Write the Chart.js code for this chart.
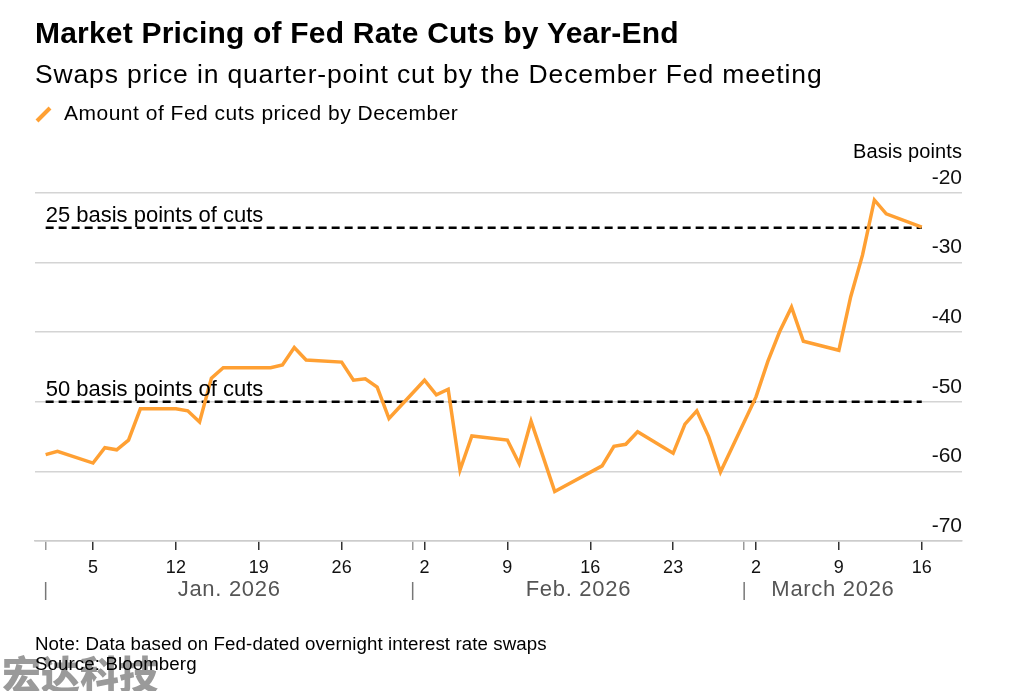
<!DOCTYPE html>
<html>
<head>
<meta charset="utf-8">
<script src="https://cdn.jsdelivr.net/npm/chart.js@4.4.1/dist/chart.umd.min.js"></script>
<style>
  html, body { margin: 0; padding: 0; background: #fff; }
  #wrap { position: relative; width: 1015px; height: 691px; }
</style>
</head>
<body>
<div id="wrap"><canvas id="grafico" width="1015" height="691"></canvas></div>
<script>
const datas = [
  "2026-01-01", "2026-01-02", "2026-01-05", "2026-01-06", "2026-01-07", "2026-01-08", "2026-01-09",
  "2026-01-12", "2026-01-13", "2026-01-14", "2026-01-15", "2026-01-16", "2026-01-20", "2026-01-21",
  "2026-01-22", "2026-01-23", "2026-01-26", "2026-01-27", "2026-01-28", "2026-01-29", "2026-01-30",
  "2026-02-02", "2026-02-03", "2026-02-04", "2026-02-05", "2026-02-06", "2026-02-09", "2026-02-10",
  "2026-02-11", "2026-02-12", "2026-02-13", "2026-02-17", "2026-02-18", "2026-02-19", "2026-02-20",
  "2026-02-23", "2026-02-24", "2026-02-25", "2026-02-26", "2026-02-27", "2026-03-02", "2026-03-03",
  "2026-03-04", "2026-03-05", "2026-03-06", "2026-03-09", "2026-03-10", "2026-03-11", "2026-03-12",
  "2026-03-13", "2026-03-16",
];
const valores = [
  -57.6, -57.1, -58.8, -56.6, -56.9, -55.5, -51.0,
  -51.0, -51.3, -52.9, -46.6, -45.1, -45.1, -44.7,
  -42.2, -44.0, -44.3, -46.9, -46.7, -47.9, -52.4,
  -46.9, -49.0, -48.2, -59.8, -54.9, -55.5, -58.9,
  -52.8, -57.8, -62.9, -59.2, -56.4, -56.1, -54.3,
  -57.4, -53.2, -51.3, -55.0, -60.1, -49.3, -44.2,
  -39.9, -36.4, -41.3, -42.6, -34.9, -28.9, -21.0,
  -23.0, -24.9,
];

const ticksDatas = [
  "2026-01-01", "2026-01-05", "2026-01-12", "2026-01-19", "2026-01-26",
  "2026-02-01", "2026-02-02", "2026-02-09", "2026-02-16", "2026-02-23",
  "2026-03-01", "2026-03-02", "2026-03-09", "2026-03-16",
];
const ticksRotulos = ["", "5", "12", "19", "26", "", "2", "9", "16", "23", "", "2", "9", "16"];

const mesesInicio = ["2026-01-01", "2026-02-01", "2026-03-01"];
const mesesRotulos = ["Jan. 2026", "Feb. 2026", "March 2026"];

const linhasRef = [-25, -50];
const linhasRotulos = ["25 basis points of cuts", "50 basis points of cuts"];

const COR_LINHA = "#ffa033";
const FONTE = "'Liberation Sans', Arial, sans-serif";

function dia(s) {
  return (Date.parse(s) - Date.parse("2026-01-01")) / 86400000;
}

const pontos = datas.map((d, i) => ({ x: dia(d), y: valores[i] }));
const primeiroDia = dia(datas[0]);
const ultimoDia = dia(datas[datas.length - 1]);

const rotuloPorDia = {};
ticksDatas.forEach((d, i) => { rotuloPorDia[dia(d)] = ticksRotulos[i]; });
const diasInicioMes = mesesInicio.map(dia);

const datasetsRef = linhasRef.map((v) => ({
  data: [{ x: primeiroDia, y: v }, { x: ultimoDia, y: v }],
  borderColor: "#000",
  borderWidth: 2.5,
  borderDash: [8, 5],
  pointRadius: 0,
  order: 2,
}));

function texto(ctx, s, x, y, fonte, espaco) {
  ctx.font = fonte;
  ctx.letterSpacing = (espaco || 0) + "px";
  ctx.fillText(s, x, y);
  ctx.letterSpacing = "0px";
}

const textos = {
  id: "textos",
  afterDraw(chart) {
    const ctx = chart.ctx;
    const sx = chart.scales.x;
    const sy = chart.scales.y;
    const area = chart.chartArea;
    ctx.save();
    ctx.textBaseline = "alphabetic";
    ctx.fillStyle = "#000";

    texto(ctx, "Market Pricing of Fed Rate Cuts by Year-End", 35, 43, "bold 30px " + FONTE, 0.2);
    texto(ctx, "Swaps price in quarter-point cut by the December Fed meeting", 35, 83, "26.5px " + FONTE, 0.85);

    // legenda
    ctx.strokeStyle = COR_LINHA;
    ctx.lineWidth = 4;
    ctx.beginPath();
    ctx.moveTo(37, 121);
    ctx.lineTo(50, 108);
    ctx.stroke();
    texto(ctx, "Amount of Fed cuts priced by December", 64, 120, "21px " + FONTE, 0.5);

    ctx.textAlign = "right";
    texto(ctx, "Basis points", area.right, 158, "20px " + FONTE, 0.1);

    // rótulos das linhas de referência
    ctx.textAlign = "left";
    linhasRef.forEach((v, i) => {
      texto(ctx, linhasRotulos[i], sx.getPixelForValue(primeiroDia), sy.getPixelForValue(v) - 6, "22px " + FONTE, 0);
    });

    // meses
    ctx.fillStyle = "#555";
    ctx.strokeStyle = "#777";
    ctx.lineWidth = 1.5;
    ctx.textAlign = "center";
    ctx.textBaseline = "middle";
    mesesInicio.forEach((m, i) => {
      const ini = sx.getPixelForValue(dia(m));
      const fim = i + 1 < mesesInicio.length ? sx.getPixelForValue(dia(mesesInicio[i + 1])) : sx.getPixelForValue(ultimoDia);
      ctx.beginPath();
      ctx.moveTo(ini, 582);
      ctx.lineTo(ini, 600);
      ctx.stroke();
      texto(ctx, mesesRotulos[i], (ini + fim) / 2, 590, "22px " + FONTE, 0.7);
    });

    // marca d'água
    ctx.textAlign = "left";
    ctx.fillStyle = "#9a9a9a";
    ctx.textBaseline = "top";
    texto(ctx, "宏达科技", 2, 655, "900 39px 'Noto Sans CJK SC'", 0);

    // nota e fonte
    ctx.textBaseline = "alphabetic";
    ctx.fillStyle = "#000";
    texto(ctx, "Note: Data based on Fed-dated overnight interest rate swaps", 35, 650, "18.7px " + FONTE, 0.1);
    texto(ctx, "Source: Bloomberg", 35, 670, "18.7px " + FONTE, 0.1);
    ctx.restore();
  },
};

new Chart(document.getElementById("grafico"), {
  type: "line",
  data: {
    datasets: [
      {
        data: pontos,
        borderColor: COR_LINHA,
        borderWidth: 3.5,
        pointRadius: 0,
        tension: 0,
        order: 1,
      },
      ...datasetsRef,
    ],
  },
  options: {
    responsive: false,
    animation: false,
    layout: { padding: { left: 35, right: 53, top: 193, bottom: 110 } },
    plugins: { legend: { display: false }, tooltip: { enabled: false } },
    scales: {
      x: {
        type: "linear",
        min: -0.9,
        max: 77.4,
        afterBuildTicks: (s) => { s.ticks = ticksDatas.map((d) => ({ value: dia(d) })); },
        afterFit: (s) => { s.height = 40; },
        ticks: {
          autoSkip: false,
          maxRotation: 0,
          padding: 7,
          color: "#111",
          font: { family: FONTE, size: 18 },
          callback: (v) => rotuloPorDia[v] ?? "",
        },
        grid: {
          drawOnChartArea: false,
          tickLength: 9,
          tickColor: (c) => (c.tick && diasInicioMes.includes(c.tick.value) ? "#999" : "#333"),
          lineWidth: 1.5,
        },
        border: { color: "#ccc", width: 1.5 },
      },
      y: {
        position: "right",
        min: -70,
        max: -20,
        afterFit: (s) => { s.width = 0; },
        ticks: {
          stepSize: 10,
          mirror: true,
          padding: 0,
          labelOffset: -15,
          color: "#111",
          font: { family: FONTE, size: 21 },
        },
        grid: { color: "#d4d4d4", lineWidth: 1.5, drawTicks: false },
        border: { display: false },
      },
    },
  },
  plugins: [textos],
});
</script>
</body>
</html>
